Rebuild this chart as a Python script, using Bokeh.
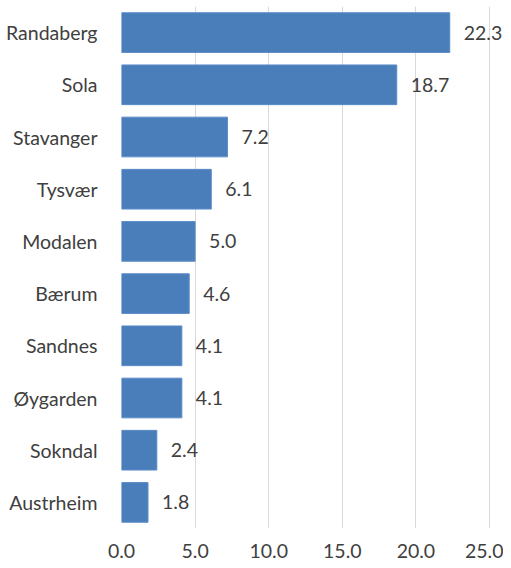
from bokeh.plotting import figure
from bokeh.models import ColumnDataSource, LabelSet, Range1d, FixedTicker, CustomJSTickFormatter
from bokeh.core.properties import value
from bokeh.embed import file_html
from bokeh.resources import INLINE

names = ["Randaberg", "Sola", "Stavanger", "Tysvær", "Modalen", "Bærum",
         "Sandnes", "Øygarden", "Sokndal", "Austrheim"]
values = [22.3, 18.7, 7.2, 6.1, 5.0, 4.6, 4.1, 4.1, 2.4, 1.8]
x_ticks = [0, 5, 10, 15, 20, 25]

FONT = "Lato"
FS = "19.5px"
TXT = "#404040"

src = ColumnDataSource(dict(
    name=names,
    value=values,
    label=[f"{v:.1f}" for v in values],
))

# frame: 0 at x=121, 25 at x=489 -> extend range so value labels are not clipped
px_per_unit = (489 - 121) / 25
x_end = 25 + (503 - 489) / px_per_unit

p = figure(width=503, height=560, y_range=list(reversed(names)),
           x_range=Range1d(0, x_end), output_backend="svg", toolbar_location=None,
           min_border_left=121, min_border_right=0, min_border_top=6, min_border_bottom=31)
p.outline_line_color = None
p.background_fill_color = "white"

p.hbar(y="name", right="value", left=0, height=0.76, source=src,
       fill_color="#4a7ebb", line_color="#5b8cc8", line_width=1)

labels = LabelSet(x="value", y="name", text="label", source=src,
                  x_offset=14, y_offset=0, text_baseline="middle",
                  text_font=value(FONT), text_font_size=value(FS), text_color=TXT)
p.add_layout(labels)

p.xaxis.ticker = FixedTicker(ticks=x_ticks)
p.xaxis.formatter = CustomJSTickFormatter(code="return tick.toFixed(1);")
p.xaxis.axis_line_color = None
p.xaxis.major_tick_line_color = None
p.xaxis.minor_tick_line_color = None
p.xaxis.major_label_text_font = FONT
p.xaxis.major_label_text_font_size = FS
p.xaxis.major_label_text_color = TXT
p.xaxis.major_label_standoff = 9

p.yaxis.axis_line_color = None
p.yaxis.major_tick_line_color = None
p.yaxis.major_label_text_font = FONT
p.yaxis.major_label_text_font_size = FS
p.yaxis.major_label_text_color = TXT
p.yaxis.major_label_standoff = 18

p.xgrid.grid_line_color = "#d9d9d9"
p.xgrid.grid_line_width = 1
p.ygrid.grid_line_color = None

open("out.html", "w").write(file_html(p, INLINE))
